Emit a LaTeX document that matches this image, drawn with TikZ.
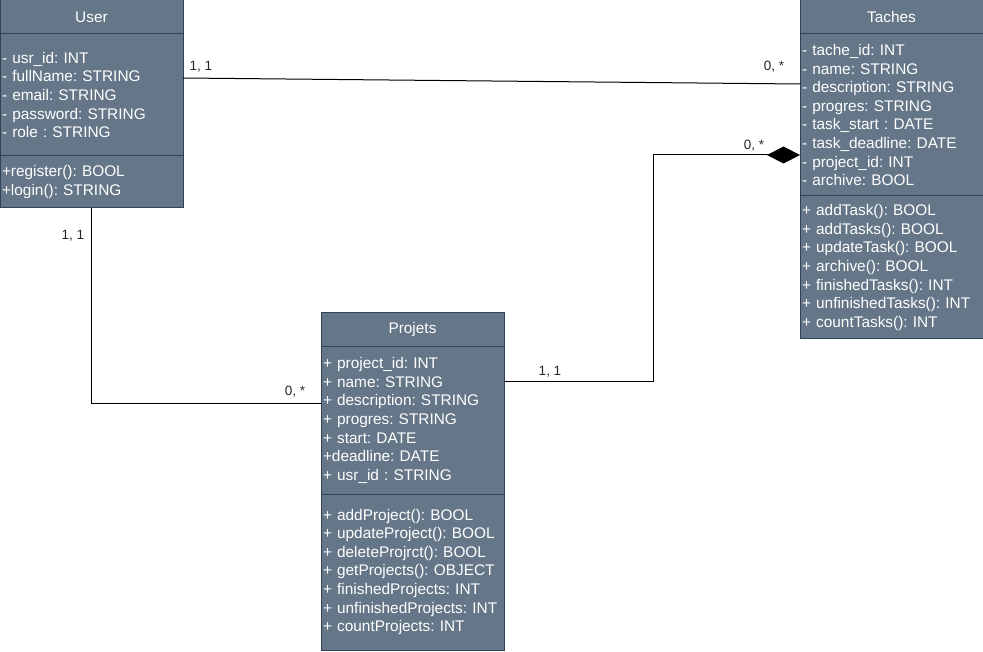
\documentclass[tikz,border=0pt]{standalone}
\usepackage{fontspec}
\setmainfont{Liberation Sans}
\usetikzlibrary{positioning}
\usetikzlibrary{arrows.meta}
\definecolor{ClassFill}{HTML}{647687}
\definecolor{ClassLine}{HTML}{314354}
\frenchspacing

\begin{document}
\begin{tikzpicture}[x=1pt,y=-1pt]
  \tikzstyle{every node}=[font=\fontsize{15.4}{18.6}\selectfont]
  \tikzstyle{classpart}=[draw=ClassLine, fill=ClassFill, text=white, line width=1pt,
    text width=179pt, inner xsep=2pt, inner ysep=0pt, outer sep=0pt, align=left]
  \tikzstyle{classhead}=[classpart, align=center, minimum height=34pt]
  \tikzstyle{card}=[font=\fontsize{13.5}{15}\selectfont, text=black!85, inner sep=0pt]
  \tikzstyle{assoc}=[draw=black, line width=1pt]
  \useasboundingbox (0,0) rectangle (983,652);
  % User
  \node[classhead] (uhead) at (91.5,17) {User};
  \node[classpart, minimum height=122pt, below=0pt of uhead] (uattr)
    {- usr\_id: INT\\- fullName: STRING\\- email: STRING\\- password: STRING\\- role : STRING};
  \node[classpart, minimum height=52pt, below=0pt of uattr] (umeth)
    {+register(): BOOL\\+login(): STRING};
  % Taches
  \node[classhead] (thead) at (891.5,17) {Taches};
  \node[classpart, minimum height=162pt, below=0pt of thead] (tattr)
    {- tache\_id: INT\\- name: STRING\\- description: STRING\\- progres: STRING\\- task\_start : DATE\\- task\_deadline: DATE\\- project\_id: INT\\- archive: BOOL};
  \node[classpart, minimum height=143pt, below=0pt of tattr] (tmeth)
    {+ addTask(): BOOL\\+ addTasks(): BOOL\\+ updateTask(): BOOL\\+ archive(): BOOL\\+ finishedTasks(): INT\\+ unfinishedTasks(): INT\\+ countTasks(): INT};
  % Projets
  \node[classhead] (phead) at (412.5,330) {Projets};
  \node[classpart, minimum height=147pt, below=0pt of phead] (pattr)
    {+ project\_id: INT\\+ name: STRING\\+ description: STRING\\+ progres: STRING\\+ start: DATE\\+deadline: DATE\\+ usr\_id : STRING};
  \node[classpart, minimum height=156pt, below=0pt of pattr] (pmeth)
    {+ addProject(): BOOL\\+ updateProject(): BOOL\\+ deleteProjrct(): BOOL\\+ getProjects(): OBJECT\\+ finishedProjects: INT\\+ unfinishedProjects: INT\\+ countProjects: INT};
  % associations
  \draw[assoc] ([yshift=-44pt]uattr.north east) -- ([yshift=-50pt]tattr.north west);
  \draw[assoc] (umeth.south) |- ([yshift=17.5pt]pattr.west);
  \draw[assoc, -{Diamond[length=33pt,width=17pt]}] ([yshift=38.5pt]pattr.east)
    -- ++(149,0) |- ([yshift=-121pt]tattr.north west);
  % cardinalities
  \node[card] (c1) at (201,67) {1, 1};
  \node[card] (c2) at (774,67) {0, *};
  \node[card] (c3) at (73,236) {1, 1};
  \node[card] (c4) at (295,392) {0, *};
  \node[card] (c5) at (550,372) {1, 1};
  \node[card] (c6) at (754,146) {0, *};
\end{tikzpicture}
\end{document}
